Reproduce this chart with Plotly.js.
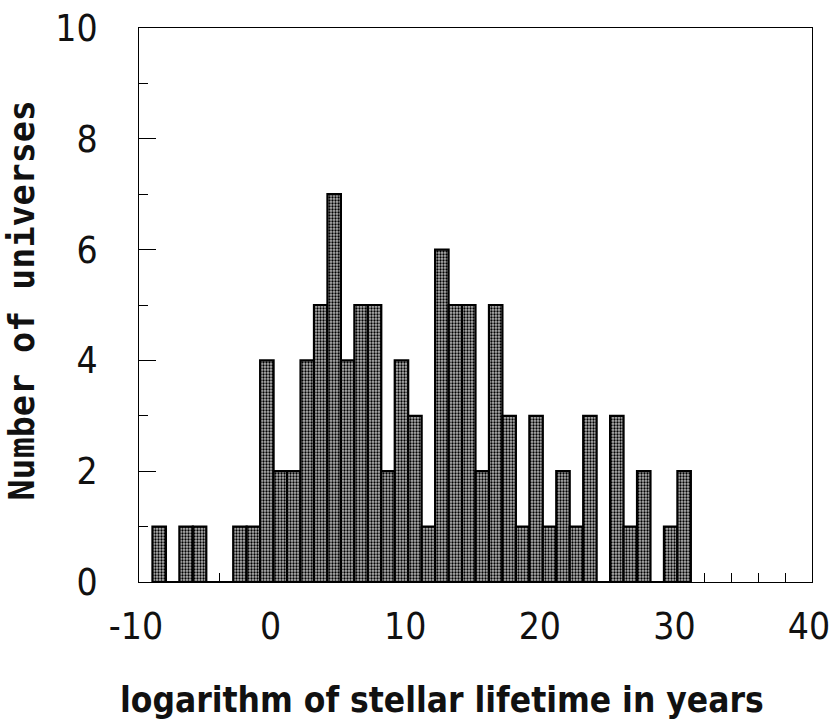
<!DOCTYPE html>
<html>
<head>
<meta charset="utf-8">
<script src="https://cdn.plot.ly/plotly-3.0.1.min.js"></script>
<style>html,body{margin:0;padding:0;background:#fff;}#chart{width:832px;height:722px;}</style>
</head>
<body>
<div id="chart"></div>
<script>
// Left edge of each 1-unit bin (log10 of stellar lifetime in years)
const binStart = [-9,-8,-7,-6,-5,-4,-3,-2,-1,0,1,2,3,4,5,6,7,8,9,10,11,12,13,14,15,16,17,18,19,20,21,22,23,24,25,26,27,28,29,30];
// Number of universes in each bin
const counts   = [ 1, 0, 1, 1, 0, 0, 1, 1, 4,2,2,4,5,7,4,5,5,2,4,3, 1, 6, 5, 5, 2, 5, 3, 1, 3, 1, 2, 1, 3, 0, 3, 1, 2, 0, 1, 2];
const xTickVals = [-10, 0, 10, 20, 30, 40];
const yTickVals = [0, 2, 4, 6, 8, 10];

const trace = {
  type: 'bar',
  x: binStart,
  y: counts,
  width: 1,
  offset: 0,
  marker: {
    color: '#8a8a8a',
    line: {color: '#000', width: 2.2},
    pattern: {shape: '.', fgcolor: '#000', bgcolor: '#b4b4b4', size: 3, solidity: 0.45}
  },
  hoverinfo: 'x+y'
};

const tickFont = {family: 'DejaVu Sans Condensed, DejaVu Sans', size: 37, color: '#111'};

const layout = {
  width: 832, height: 722,
  margin: {l: 139, r: 20, t: 28, b: 140},
  paper_bgcolor: '#fff', plot_bgcolor: '#fff',
  showlegend: false,
  bargap: 0,
  xaxis: {
    range: [-10, 40], tickvals: xTickVals, ticktext: xTickVals.map(String),
    ticks: 'inside', ticklen: 17, tickwidth: 1, tickcolor: '#000',
    minor: {dtick: 2, tick0: 0, ticks: 'inside', ticklen: 9, tickwidth: 1, tickcolor: '#000'},
    showline: true, linecolor: '#000', linewidth: 1, mirror: true,
    showgrid: false, zeroline: false, layer: 'below traces',
    tickfont: tickFont, ticklabelstandoff: 12, ticklabeloverflow: 'allow', ticklabelshift: -3
  },
  yaxis: {
    range: [0, 10], tickvals: yTickVals, ticktext: yTickVals.map(String),
    ticks: 'inside', ticklen: 17, tickwidth: 1, tickcolor: '#000',
    minor: {dtick: 1, tick0: 0, ticks: 'inside', ticklen: 9, tickwidth: 1, tickcolor: '#000'},
    showline: true, linecolor: '#000', linewidth: 1, mirror: true,
    showgrid: false, zeroline: false, layer: 'below traces',
    tickfont: tickFont, ticklabelstandoff: 33, ticklabeloverflow: 'allow'
  },
  annotations: [
    {text: 'logarithm of stellar lifetime in years', xref: 'paper', yref: 'paper',
     x: 0.4495, y: -0.213, xanchor: 'center', yanchor: 'middle', showarrow: false,
     font: {family: 'DejaVu Sans Condensed, DejaVu Sans', size: 35, weight: 'bold', color: '#111'}},
    {text: 'Number of universes', xref: 'paper', yref: 'paper',
     x: -0.174, y: 0.508, xanchor: 'center', yanchor: 'middle', showarrow: false, textangle: -90,
     font: {family: 'DejaVu Sans Mono', size: 35, weight: 'bold', color: '#111'}}
  ]
};

Plotly.newPlot('chart', [trace], layout, {staticPlot: true});
</script>
</body>
</html>
